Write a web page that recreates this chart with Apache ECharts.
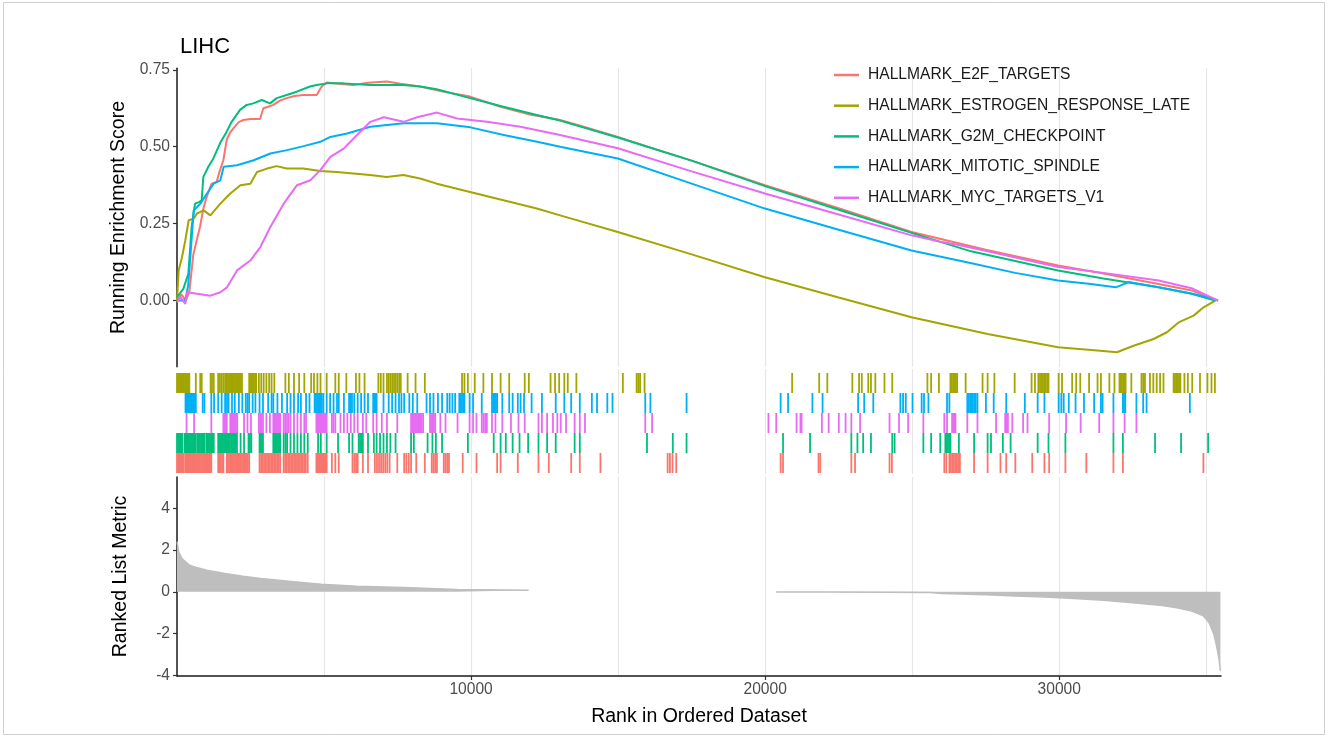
<!DOCTYPE html>
<html>
<head>
<meta charset="utf-8">
<script src="https://cdn.jsdelivr.net/npm/echarts@6/dist/echarts.min.js"></script>
<style>
html,body{margin:0;padding:0;background:#fff;}
#chart{width:1328px;height:738px;}
</style>
</head>
<body>
<div id="chart"></div>
<script>
// ---------- data ----------
const titleText = 'LIHC';
const setNames = ['HALLMARK_E2F_TARGETS','HALLMARK_ESTROGEN_RESPONSE_LATE','HALLMARK_G2M_CHECKPOINT','HALLMARK_MITOTIC_SPINDLE','HALLMARK_MYC_TARGETS_V1'];
const setColors = ['#F8766D','#A3A500','#00BF7D','#00B0F6','#E76BF3'];
const xTickLabels = [10000, 20000, 30000];
const esTickLabels = [0, 0.25, 0.5, 0.75];
const metricTickLabels = [-4, -2, 0, 2, 4];

const esE2F = [[0,0],[150,0.02],[300,0.0],[420,0.03],[556,0.15],[680,0.2],[783,0.24],[900,0.3],[1009,0.337],[1179,0.38],[1349,0.386],[1450,0.42],[1576,0.456],[1689,0.522],[1800,0.545],[1916,0.56],[2100,0.58],[2256,0.587],[2500,0.59],[2823,0.59],[2937,0.625],[3100,0.63],[3277,0.636],[3500,0.65],[3730,0.658],[4000,0.665],[4297,0.668],[4750,0.668],[4920,0.696],[5090,0.709],[5500,0.705],[5997,0.701],[6500,0.708],[7131,0.712],[7600,0.705],[8265,0.696],[9000,0.68],[9966,0.663],[11000,0.63],[12000,0.605],[13027,0.587],[14000,0.56],[14990,0.532],[16000,0.5],[17500,0.455],[19993,0.375],[22500,0.3],[24976,0.223],[27500,0.165],[29960,0.114],[31500,0.088],[33378,0.054],[34500,0.033],[34948,0.016],[35400,0.0]];
const esEstrogen = [[0,0.0],[57,0.098],[170,0.141],[283,0.196],[397,0.261],[567,0.266],[680,0.283],[907,0.293],[1134,0.277],[1474,0.315],[1814,0.348],[2154,0.375],[2494,0.38],[2721,0.418],[3061,0.429],[3390,0.437],[3730,0.429],[4297,0.429],[4863,0.421],[5430,0.418],[5997,0.413],[6564,0.408],[7131,0.402],[7698,0.408],[8265,0.397],[8832,0.38],[9966,0.353],[11100,0.326],[12234,0.299],[13027,0.277],[14990,0.223],[17500,0.15],[19993,0.076],[22500,0.01],[24976,-0.054],[27563,-0.109],[29960,-0.152],[31395,-0.163],[31960,-0.168],[32527,-0.147],[33207,-0.125],[33662,-0.103],[34058,-0.071],[34568,-0.049],[34908,-0.022],[35306,0.0]];
const esG2M = [[0,0.011],[215,0.038],[385,0.087],[499,0.239],[612,0.315],[750,0.32],[839,0.326],[896,0.402],[1066,0.435],[1236,0.462],[1463,0.511],[1689,0.549],[1859,0.581],[2143,0.62],[2370,0.636],[2597,0.641],[2880,0.652],[3163,0.641],[3390,0.658],[3730,0.668],[4070,0.679],[4523,0.696],[4750,0.701],[5090,0.706],[5657,0.706],[6564,0.701],[7698,0.701],[8265,0.696],[8832,0.687],[9966,0.658],[11100,0.63],[12234,0.603],[13027,0.585],[14990,0.53],[17500,0.455],[19993,0.372],[22500,0.295],[24976,0.22],[27000,0.16],[29960,0.098],[31500,0.072],[33378,0.043],[34500,0.022],[35300,0.0]];
const esMitotic = [[0,0],[283,0],[380,0.05],[453,0.141],[567,0.293],[794,0.315],[1020,0.348],[1247,0.38],[1474,0.391],[1587,0.435],[2041,0.44],[2608,0.456],[3174,0.478],[3741,0.489],[4308,0.502],[4875,0.516],[5215,0.532],[5782,0.543],[6575,0.565],[7709,0.576],[8843,0.576],[9977,0.563],[11111,0.538],[12245,0.516],[13027,0.5],[14990,0.462],[17500,0.38],[19993,0.299],[22500,0.23],[24976,0.163],[26980,0.122],[28500,0.09],[29960,0.065],[31000,0.055],[31924,0.043],[32360,0.06],[33378,0.043],[34541,0.022],[35400,0]];
const esMyc = [[0,-0.005],[113,0.011],[283,-0.011],[340,0.027],[680,0.022],[1134,0.016],[1474,0.027],[1701,0.043],[2041,0.098],[2494,0.13],[2834,0.174],[3174,0.239],[3628,0.315],[4081,0.375],[4535,0.391],[4875,0.424],[5215,0.467],[5669,0.494],[6122,0.538],[6575,0.581],[7029,0.596],[7709,0.581],[8163,0.596],[8843,0.611],[9523,0.592],[10543,0.581],[11677,0.565],[13027,0.538],[14990,0.495],[17500,0.42],[19993,0.348],[22500,0.28],[24976,0.212],[26000,0.19],[26500,0.182],[27563,0.16],[29960,0.109],[31500,0.09],[33378,0.065],[34500,0.04],[35400,0]];

const hitsE2F = [0,40,80,120,160,200,230,289,325,360,395,430,465,500,535,570,605,640,675,710,745,780,815,850,885,920,955,990,1025,1060,1095,1130,1167,1401,1445,1490,1535,1577,1694,1730,1770,1810,1850,1890,1930,1970,2010,2050,2090,2130,2170,2210,2250,2290,2330,2370,2410,2455,2807,2860,2910,2960,3010,3060,3110,3160,3210,3260,3310,3360,3410,3460,3509,3627,3680,3730,3780,3830,3880,3930,3980,4030,4080,4130,4180,4230,4280,4330,4380,4446,4739,4775,4810,4845,4880,4915,4950,4985,5020,5055,5090,5266,5383,5500,5968,6030,6090,6144,6320,6495,6729,6800,6870,6940,7010,7081,7150,7230,7490,7725,7800,7880,7959,8135,8427,8662,8720,8780,8838,9072,9130,9190,9248,9716,10184,10886,11004,11589,12292,12643,13404,13697,14399,16683,16760,16850,16976,20526,20607,21814,21872,22930,23056,24229,24310,26092,26161,26264,26310,26360,26410,26460,26510,26560,26621,27104,27564,28001,28197,28507,29082,29496,29657,30209,30922,31842,32164,34901];
const hitsEstrogen = [0,35,70,105,140,175,210,245,280,315,350,385,420,640,790,840,1144,1190,1249,1401,1460,1519,1577,1636,1694,1729,1770,1810,1850,1890,1930,1970,2010,2050,2090,2130,2170,2210,2455,2495,2535,2575,2615,2655,2690,2783,2865,2947,3040,3134,3216,3310,3685,3802,3978,4153,4329,4563,4657,4774,4880,5090,5383,5500,5758,6085,6203,6378,6847,6929,7022,7139,7200,7260,7320,7380,7440,7500,7560,7608,7842,8111,8427,9692,9774,9891,10125,10418,10711,11004,11297,11824,11964,12702,12854,12995,13170,13287,13580,15161,15630,15688,15747,15899,20917,21837,22113,22964,23194,23286,23505,23597,23746,24057,24321,25517,25643,25908,26299,26345,26390,26440,26485,26529,26817,27392,27564,27794,28484,29059,29174,29289,29346,29395,29445,29490,29540,29590,29634,29979,30094,30439,30577,30715,31014,31302,31417,31704,31877,32049,32090,32130,32175,32215,32256,32451,32796,32855,32914,33084,33199,33314,33429,33544,33889,33935,33980,34030,34075,34119,34257,34372,34522,34786,35039,35177,35292];
const hitsG2M = [0,35,70,105,140,172,254,290,325,360,395,430,465,500,535,570,605,640,700,740,780,820,860,900,933,1000,1040,1080,1120,1160,1200,1250,1401,1440,1480,1520,1560,1600,1640,1680,1720,1760,1800,1840,1880,1920,1960,2000,2040,2163,2280,2432,2480,2526,2807,2850,2890,2924,3275,3315,3355,3395,3435,3475,3509,3627,3690,3744,3861,3978,4095,4212,4329,4446,4797,4891,5090,5476,5851,5968,6179,6225,6270,6320,6495,6694,6788,6905,7022,7139,7256,7432,7959,8053,8521,8685,8802,9013,9891,10770,11004,11180,11413,11647,11940,12292,12585,12878,13521,13697,15981,16859,17327,20607,21527,22930,23137,23332,23597,24321,24401,25379,25643,25954,26127,26170,26215,26260,26299,26587,27104,27564,27679,28082,28346,29266,29634,30209,31842,32164,33257,34142,35062];
const hitsMitotic = [289,325,360,395,430,465,500,535,570,605,640,874,933,1167,1261,1401,1519,1636,1700,1753,1870,1964,2104,2221,2338,2400,2455,2572,2666,2807,2924,3099,3216,3275,3415,3568,3744,3861,3978,4118,4212,4388,4505,4680,4720,4760,4800,4840,4880,4920,4973,5090,5207,5324,5441,5500,5676,5851,5900,5950,6027,6144,6261,6378,6495,6671,6710,6750,6788,7022,7198,7315,7432,7549,7631,7725,7900,8018,8170,8486,8603,8720,8873,9013,9189,9271,9365,9458,9599,9640,9690,9735,9774,9950,10067,10363,10711,10755,10800,10845,10886,11062,11297,11413,11589,11683,11800,12058,12409,12878,13170,13404,13697,14107,14282,14633,14809,15922,16098,17327,20526,20779,21607,21952,23160,23367,23677,24597,24689,24781,25011,25321,25402,25551,26184,26264,26874,26920,26970,27015,27060,27110,27160,27219,27507,27771,28197,28829,29266,29496,29979,30071,30151,30324,30554,30841,31186,31417,31474,31842,32164,32200,32245,32624,32854,32969,34441];
const hitsMyc = [324,582,1167,1577,1620,1660,1694,1811,1850,1890,1930,1970,2010,2046,2280,2397,2514,2783,2830,2880,2924,3040,3158,3275,3315,3355,3395,3435,3475,3509,3627,3680,3740,3800,3861,3978,4095,4212,4329,4388,4739,4775,4810,4845,4880,4915,4950,4985,5020,5055,5090,5266,5320,5383,5558,5676,5793,5910,6027,6144,6320,6437,6671,6788,6964,7139,7490,7959,8000,8040,8080,8120,8160,8200,8240,8280,8320,8369,8603,8645,8690,8735,8779,8955,9130,9540,9950,10067,10184,10363,10420,10480,10536,10711,10828,11062,11355,11612,11824,12292,12409,12585,12784,12932,13049,13228,13521,13697,13873,15922,16156,20112,20377,21067,21200,21239,21929,22159,22504,22734,22930,23229,24229,24551,24862,25379,26092,26184,26356,26400,26440,26471,26874,27219,27852,28162,28210,28254,28404,28771,28921,29657,30232,30727,31359,31842,32222,32624];

const rankedMetric = [[0,2.4],[60,1.92],[170,1.6],[418,1.28],[660,1.17],[1020,1.04],[1633,0.88],[2240,0.75],[2848,0.64],[3455,0.56],[4062,0.48],[4898,0.37],[6122,0.27],[7707,0.21],[9524,0.11],[11958,0.08],[16000,null],[20374,-0.01],[22000,-0.01],[24000,-0.02],[25600,-0.03],[26000,-0.08],[27500,-0.14],[28500,-0.2],[29500,-0.25],[30500,-0.32],[31500,-0.4],[32500,-0.52],[33500,-0.66],[34000,-0.76],[34500,-0.92],[34900,-1.15],[35100,-1.5],[35250,-2.0],[35350,-2.6],[35430,-3.2],[35480,-3.8]];

// ---------- chart ----------
const esLines = [esE2F, esEstrogen, esG2M, esMitotic, esMyc];
const hitLists = [hitsE2F, hitsEstrogen, hitsG2M, hitsMitotic, hitsMyc];
// rug row (0 = bottom): E2F, G2M, MYC, MITOTIC, ESTROGEN (top)
const rugRow = [0, 4, 1, 3, 2];

const FONT = 'Liberation Sans, Arial, sans-serif';
const XMAX = 35500;
const L = 177, W = 1044;

function gridAxis(gi) {
  return {
    type: 'value', gridIndex: gi, min: 0, max: XMAX, interval: 5000, position: 'bottom',
    axisLine: { show: false }, axisTick: { show: false }, axisLabel: { show: false },
    splitLine: { show: true, showMinLine: false, showMaxLine: false, lineStyle: { color: '#E6E6E6', width: 1.2 } }
  };
}

const series = [];
setNames.forEach((n, i) => {
  series.push({
    name: n, type: 'line', xAxisIndex: 0, yAxisIndex: 0, data: esLines[i],
    showSymbol: false, symbol: 'none', lineStyle: { color: setColors[i], width: 2 },
    itemStyle: { color: setColors[i] }, z: 3 + i, silent: true
  });
});
setNames.forEach((n, i) => {
  series.push({
    name: 'rug_' + i, type: 'scatter', xAxisIndex: 1, yAxisIndex: 1,
    data: hitLists[i].map(r => [r, rugRow[i] + 0.5]),
    symbol: 'rect', symbolSize: [1.8, 20], itemStyle: { color: setColors[i], opacity: 1 },
    silent: true, z: 3
  });
});
series.push({
  name: 'metric', type: 'line', xAxisIndex: 2, yAxisIndex: 2, data: rankedMetric,
  showSymbol: false, symbol: 'none', connectNulls: false,
  lineStyle: { color: '#BEBEBE', width: 1.4 }, areaStyle: { color: '#BEBEBE', opacity: 1, origin: 0 },
  silent: true, z: 3
});

const option = {
  animation: false,
  backgroundColor: '#fff',
  textStyle: { fontFamily: FONT },
  title: { text: titleText, left: 175, top: 31, textStyle: { fontSize: 22, fontWeight: 'normal', color: '#000', fontFamily: FONT } },
  legend: {
    data: setNames, orient: 'vertical', left: 829, top: 60, itemWidth: 25, itemHeight: 2.5, itemGap: 10.7,
    icon: 'rect',
    textStyle: { fontSize: 15.6, color: '#1A1A1A', fontFamily: FONT, lineHeight: 20, padding: [0, 0, 0, 4] },
    selectedMode: false
  },
  graphic: [{ type: 'rect', shape: { x: 3.5, y: 2.5, width: 1321, height: 732 }, style: { fill: 'none', stroke: '#CFCFCF', lineWidth: 1 }, silent: true }],
  grid: [
    { left: L, top: 68.3, width: W, height: 298.4 },
    { left: L, top: 369, width: W, height: 105, show: false },
    { left: L, top: 477, width: W, height: 199 }
  ],
  xAxis: [
    gridAxis(0),
    gridAxis(1),
    gridAxis(2),
    {
      type: 'value', gridIndex: 2, min: 0, max: XMAX, position: 'bottom',
      axisLine: { show: true, onZero: false, lineStyle: { color: '#1a1a1a', width: 1.5 } },
      axisTick: { show: true, customValues: xTickLabels, length: 4, lineStyle: { color: '#333', width: 1.2 } },
      axisLabel: { show: true, customValues: xTickLabels, color: '#4D4D4D', fontSize: 15.6, fontFamily: FONT, margin: 6, formatter: v => String(v) },
      splitLine: { show: false },
      name: 'Rank in Ordered Dataset', nameLocation: 'middle', nameGap: 31,
      nameTextStyle: { fontSize: 19.5, color: '#000', fontFamily: FONT }
    }
  ],
  yAxis: [
    {
      type: 'value', gridIndex: 0, min: -0.215, max: 0.755,
      name: 'Running Enrichment Score', nameLocation: 'middle', nameGap: 46,
      nameTextStyle: { fontSize: 19.5, color: '#000', fontFamily: FONT },
      axisLine: { show: true, onZero: false, lineStyle: { color: '#1a1a1a', width: 1.5 } },
      axisTick: { show: true, customValues: esTickLabels, length: 4, lineStyle: { color: '#333', width: 1.2 } },
      axisLabel: { customValues: esTickLabels, color: '#4D4D4D', fontSize: 15.6, fontFamily: FONT, margin: 7, formatter: v => v.toFixed(2) },
      splitLine: { show: false }
    },
    {
      type: 'value', gridIndex: 1, min: -0.05, max: 5.2,
      axisLine: { show: false }, axisTick: { show: false }, axisLabel: { show: false }, splitLine: { show: false }
    },
    {
      type: 'value', gridIndex: 2, min: -4.03, max: 5.5,
      name: 'Ranked List Metric', nameLocation: 'middle', nameGap: 46,
      nameTextStyle: { fontSize: 19.5, color: '#000', fontFamily: FONT },
      axisLine: { show: true, onZero: false, lineStyle: { color: '#1a1a1a', width: 1.5 } },
      axisTick: { show: true, customValues: metricTickLabels, length: 4, lineStyle: { color: '#333', width: 1.2 } },
      axisLabel: { customValues: metricTickLabels, color: '#4D4D4D', fontSize: 15.6, fontFamily: FONT, margin: 7 },
      splitLine: { show: false }
    }
  ],
  series: series
};

const chart = echarts.init(document.getElementById('chart'), null, { renderer: 'canvas' });
chart.setOption(option);
</script>
</body>
</html>
